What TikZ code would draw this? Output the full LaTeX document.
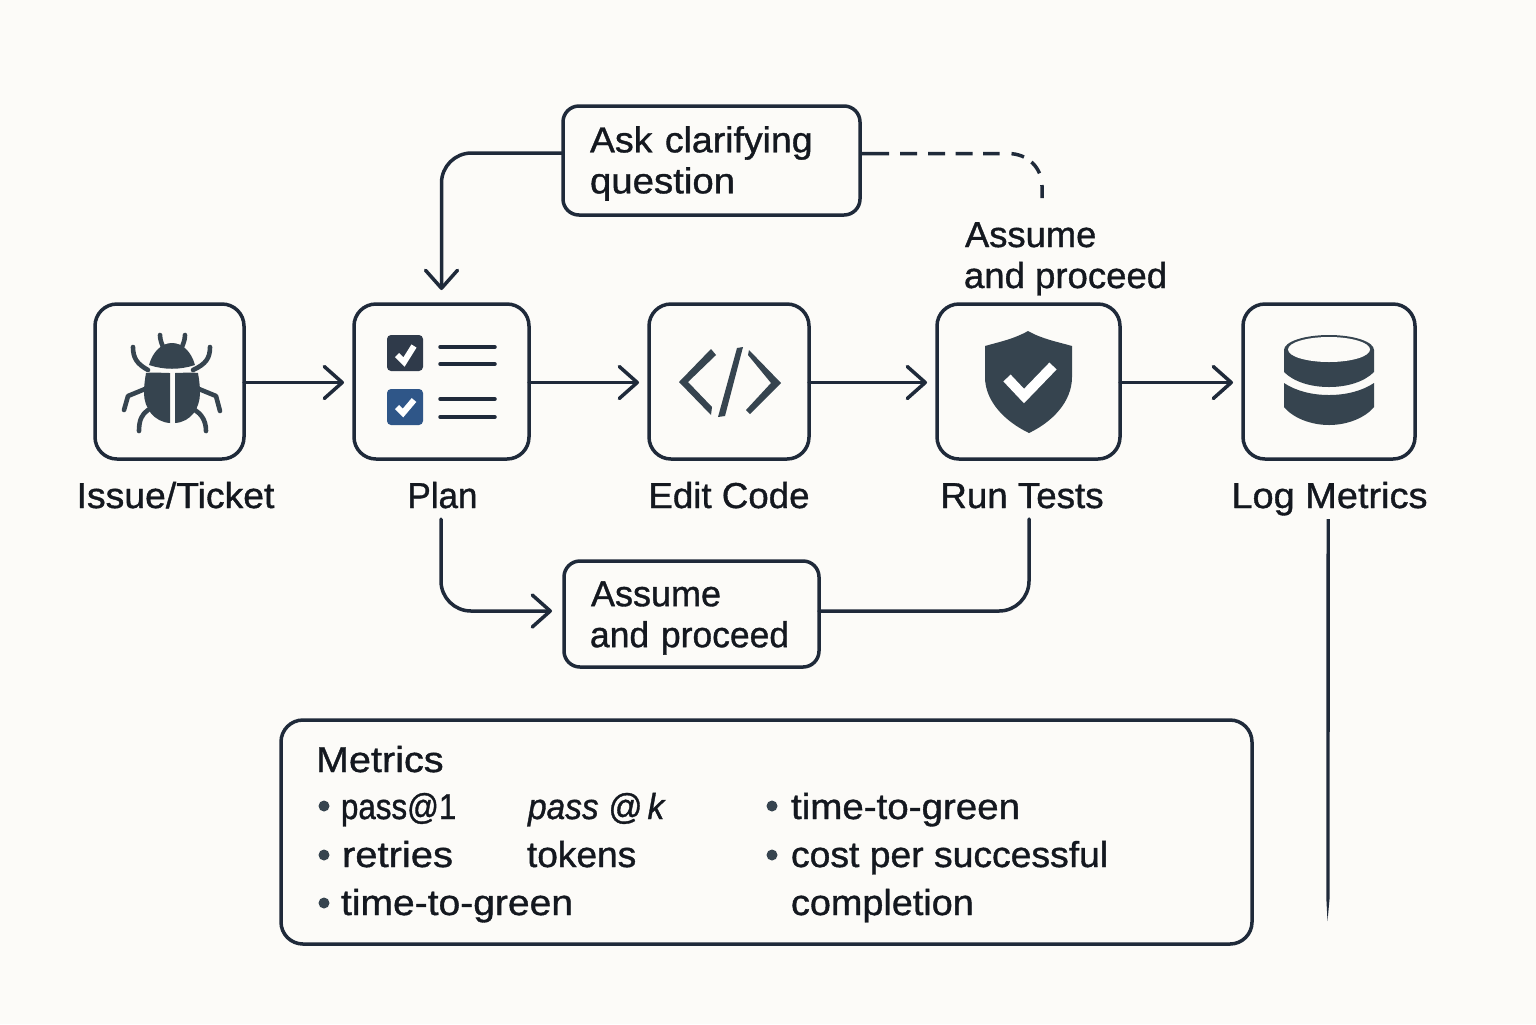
\documentclass[tikz,border=0pt]{standalone}
\usepackage{fontspec}
\setmainfont{Liberation Sans}[FakeBold=1.0]
\usetikzlibrary{arrows.meta,calc}
\definecolor{bgc}{HTML}{FCFBF8}
\definecolor{strokec}{HTML}{1F2A3A}
\definecolor{iconc}{HTML}{36444F}
\definecolor{checkc}{HTML}{2F3A4A}
\definecolor{bluec}{HTML}{2F5688}
\definecolor{textc}{HTML}{14181F}
\newcommand\fitw[2]{\scalebox{#1}[1]{#2}}
\tikzset{
  x=0.5pt,y=-0.5pt,
  txt/.style={font=\fontsize{18}{20.5}\selectfont,text=textc,inner sep=0pt,outer sep=0pt},
  box/.style={draw=strokec,line width=1.75pt,fill=bgc,rounded corners=11pt,inner sep=0pt,outer sep=0pt},
  textbox/.style={box,rounded corners=8pt},
  boxtext/.style={txt,align=left},
  steplabel/.style={txt,anchor=base,text height=14.5pt,text depth=5.5pt},
  metric/.style={txt,anchor=base west},
  conn/.style={draw=strokec,line width=1.75pt,rounded corners=15pt,line cap=round,
    -{Straight Barb[length=9pt,width=16pt,line width=1.75pt,round]}},
  plainline/.style={draw=strokec,line width=1.75pt,rounded corners=15pt,line cap=round},
  dashline/.style={draw=strokec,line width=1.75pt,
    dash pattern=on 14.5pt off 5.5pt on 8.5pt off 5.5pt on 8.5pt off 5.25pt on 8.5pt off 5.25pt on 8.25pt off 6pt on 6.5pt off 4.5pt on 7pt off 6pt on 8pt off 5pt},
  iconline/.style={draw=iconc,line width=2.3pt,line cap=round,line join=round},
  listline/.style={draw=strokec,line width=1.75pt,line cap=round},
  tick/.style={draw=white,line width=3pt,line join=miter},
  bullet/.style={circle,fill=iconc,minimum size=5.5pt,inner sep=0pt,outer sep=0pt},
}
\begin{document}
\begin{tikzpicture}
\useasboundingbox (0,0) rectangle (1536,1024);
\fill[bgc] (0,0) rectangle (1536,1024);

% step boxes
\node[box,minimum width=74.5pt,minimum height=77.5pt] (issue) at (169.5,381.5) {};
\node[box,minimum width=87.5pt,minimum height=77.5pt] (plan) at (441.5,381.5) {};
\node[box,minimum width=80pt,minimum height=77.5pt] (edit) at (729,381.5) {};
\node[box,minimum width=91.5pt,minimum height=77.5pt] (run) at (1028.5,381.5) {};
\node[box,minimum width=86pt,minimum height=77.5pt] (log) at (1329,381.5) {};

% step labels
\node[steplabel] (issuelabel) at (175.5,508) {\fitw{1.037}{Issue/Ticket}};
\node[steplabel] (planlabel) at (442.5,508) {\fitw{0.97}{Plan}};
\node[steplabel] (editlabel) at (729,508) {\fitw{1.02}{Edit Code}};
\node[steplabel] (runlabel) at (1022,508) {\fitw{1.02}{Run Tests}};
\node[steplabel] (loglabel) at (1329.5,508) {\fitw{1.054}{Log Metrics}};

% decision boxes
\node[textbox,minimum width=148.5pt,minimum height=54.5pt] (ask) at (711.5,160.5) {};
\node[boxtext,text width=145pt] (asktext) at (711.5,163.5)
  {\hspace*{11.75pt}\fitw{1.04}{Ask clarifying}\\\hspace*{11.75pt}\fitw{1.066}{question}};
\node[textbox,minimum width=127.5pt,minimum height=53pt] (assume) at (691.5,614) {};
\node[boxtext,text width=124pt] (assumetext) at (691.5,618)
  {\hspace*{11.75pt}Assume\\\hspace*{11.25pt}\fitw{0.985}{and proceed}};
\node[txt,anchor=base west] (assumenote) at (965,247) {\fitw{1.01}{Assume}};
\node[txt,anchor=base west] (proceednote) at (964,288) {\fitw{1.015}{and proceed}};

% metrics panel
\node[box,minimum width=485.5pt,minimum height=112pt] (metrics) at (766.5,832) {};
\node[metric] (mtitle) at (316,772) {\fitw{1.10}{Metrics}};
\node[bullet] (b1) at (324,806) {};
\node[bullet] (b2) at (324,855) {};
\node[bullet] (b3) at (324,903) {};
\node[bullet] (b4) at (772,806) {};
\node[bullet] (b5) at (772,855) {};
\node[metric] (m1) at (341,819) {\fitw{0.87}{pass@1}};
\node[metric] (m2) at (342,867) {\fitw{1.11}{retries}};
\node[metric] (m3) at (341,915) {\fitw{1.084}{time-to-green}};
\node[metric,font=\fontsize{18}{20.5}\selectfont\itshape] (m4) at (528,819) {\fitw{0.93}{pass @\,k}};
\node[metric] (m5) at (527,867) {\fitw{1.03}{tokens}};
\node[metric] (m6) at (791,819) {\fitw{1.07}{time-to-green}};
\node[metric] (m7) at (791,867) {\fitw{1.036}{cost per successful}};
\node[metric] (m8) at (791,915) {\fitw{1.05}{completion}};

% connectors
\draw[conn,shorten >=5pt] ([yshift=-0.5pt]issue.east) -- ([yshift=-0.5pt]plan.west);
\draw[conn,shorten >=5pt] ([yshift=-0.5pt]plan.east) -- ([yshift=-0.5pt]edit.west);
\draw[conn,shorten >=5pt] ([yshift=-0.5pt]edit.east) -- ([yshift=-0.5pt]run.west);
\draw[conn,shorten >=5pt] ([yshift=-0.5pt]run.east) -- ([yshift=-0.5pt]log.west);
\draw[conn,shorten >=7pt] ([yshift=3.75pt]ask.west) -| (plan.north);
\coordinate (dashend) at (1042,198);
\draw[dashline] ([yshift=3.5pt]ask.east) -- (1008,153.5) .. controls (1028,153.5) and (1042,168) .. (1042,186) -- (dashend);
\draw[conn,shorten >=6pt] ([xshift=-0.75pt]planlabel.south) |- ([yshift=1.5pt]assume.west);
\draw[plainline] ([xshift=3.5pt]runlabel.south) |- ([yshift=1.5pt]assume.east);
\coordinate (logend) at (1327.5,921);
\fill[strokec] ([xshift=-1.5pt]loglabel.south) -- (1326.3,898) -- (logend) -- (1329.6,898) -- ([xshift=0.2pt]loglabel.south) -- cycle;

% bug icon
\fill[iconc] (149,365) .. controls (153,351) and (162,343) .. (172,343) .. controls (182,343) and (191,351) .. (195,365) .. controls (180,370) and (164,370) .. (149,365) -- cycle;
\fill[iconc] (170,373) -- (170,423) .. controls (154,422) and (144,408) .. (144,393) .. controls (144,385) and (145,379) .. (146,373) .. controls (155,372) and (162,373) .. (170,373) -- cycle;
\fill[iconc] (175,373) -- (175,423) .. controls (191,422) and (200,408) .. (200,393) .. controls (200,385) and (199,379) .. (198,373) .. controls (189,372) and (182,373) .. (175,373) -- cycle;
\draw[iconline] (160,335) .. controls (160,340) and (162,344) .. (163,347);
\draw[iconline] (185,335) .. controls (185,340) and (183,344) .. (182,347);
\draw[iconline] (133,347) .. controls (133,358) and (137,364) .. (148,370);
\draw[iconline] (210,347) .. controls (210,358) and (206,364) .. (193,370);
\draw[iconline] (145,389) -- (128,396) -- (124,410);
\draw[iconline] (199,389) -- (216,396) -- (220,411);
\draw[iconline] (148,410) .. controls (142,414) and (139,420) .. (139,431);
\draw[iconline] (195,410) .. controls (201,414) and (206,420) .. (206,431);

% checklist icon
\fill[checkc,rounded corners=2pt] (387,335) rectangle (423,371);
\draw[tick] (397,355) -- (404,362) -- (414,346);
\fill[bluec,rounded corners=2pt] (387,389) rectangle (423,425);
\draw[tick] (397,407) -- (403,413) -- (414,400);
\draw[listline] (440,347) -- (495,347);
\draw[listline] (440,364) -- (495,364);
\draw[listline] (440,399) -- (495,399);
\draw[listline] (440,417) -- (495,417);

% code icon
\fill[iconc] (711,349) -- (716,355) -- (688,382) -- (712,407) -- (711,415) -- (679,382) -- cycle;
\fill[iconc] (749,350) -- (781,383) -- (750,414) -- (746,410) -- (771,383) -- (748,355) -- cycle;
\fill[iconc] (737,348) -- (743,347) -- (725,416) -- (718,417) -- cycle;

% shield icon
\fill[iconc] (1028,331) .. controls (1042,339) and (1058,342) .. (1072,346) -- (1072,377) .. controls (1072,402) and (1052,422) .. (1029,433) .. controls (1006,422) and (985,402) .. (985,377) -- (985,346) .. controls (999,342) and (1014,339) .. (1028,331) -- cycle;
\draw[draw=white,line width=5pt] (1007,378) -- (1024,396) -- (1053,366);

% database icon
\fill[iconc] (1284,350) -- (1284,372) .. controls (1294,382) and (1311,387) .. (1329,387) .. controls (1347,387) and (1364,382) .. (1374,372) -- (1374,350) -- cycle;
\fill[iconc] (1329,350) ellipse[x radius=45,y radius=15];
\fill[bgc] (1329,349.5) ellipse[x radius=41,y radius=12.5];
\fill[iconc] (1284,383) .. controls (1296,391) and (1312,395) .. (1329,395) .. controls (1346,395) and (1362,391) .. (1374,383) -- (1374,407) .. controls (1365,418) and (1347,425) .. (1329,425) .. controls (1311,425) and (1293,418) .. (1284,407) -- cycle;
\end{tikzpicture}
\end{document}
